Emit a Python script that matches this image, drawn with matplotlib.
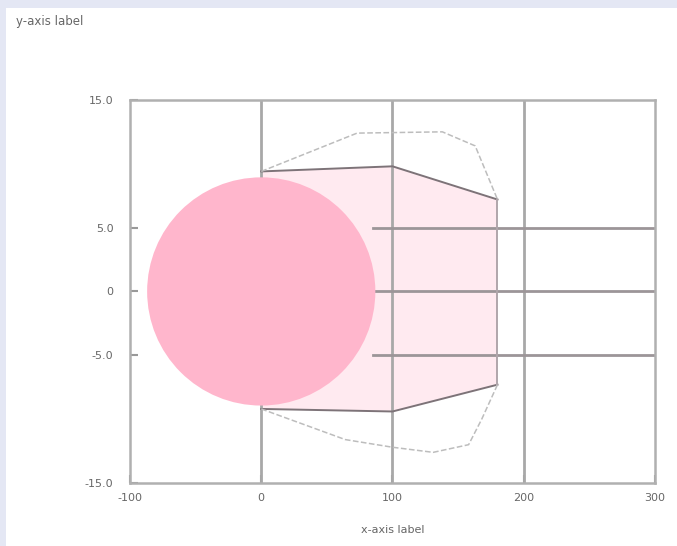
import matplotlib
matplotlib.use("Agg")
import matplotlib.pyplot as plt
from matplotlib.patches import Rectangle

# --- data ---
x_ticks = [-100, 0, 100, 200, 300]
x_tick_labels = ["-100", "0", "100", "200", "300"]
y_ticks = [-15, -5, 0, 5, 15]
y_tick_labels = ["-15.0", "-5.0", "0", "5.0", "15.0"]

circle_x = [0]
circle_y = [0]

band_x = [0, 100, 180]
band_upper = [9.4, 9.8, 7.2]
band_lower = [-9.2, -9.4, -7.3]

outer_upper_x = [0, 73, 138, 163, 180]
outer_upper_y = [9.4, 12.4, 12.5, 11.4, 7.2]
outer_lower_x = [0, 64, 100, 131, 158, 168, 180]
outer_lower_y = [-9.2, -11.6, -12.2, -12.6, -12.0, -10.0, -7.3]

hline_y = [5, 0, -5]
hline_start = 85
vline_x = [0, 100, 200]

x_label = "x-axis label"
y_label = "y-axis label"

# --- figure ---
fig = plt.figure(figsize=(6.77, 5.46), dpi=100, facecolor="#e4e7f4")
fig.patches.append(Rectangle((6 / 677, 0), 1, 1 - 8 / 546, transform=fig.transFigure,
                             facecolor="white", edgecolor="none", zorder=-10))
ax = fig.add_axes([0.192, 0.1154, 0.7755, 0.7016])
ax.set_facecolor("none")

ax.set_xlim(-100, 300)
ax.set_ylim(-15, 15)

# band polygon
poly_x = band_x + band_x[::-1]
poly_y = band_upper + band_lower[::-1]
ax.fill(poly_x, poly_y, facecolor="#ffd6e2", alpha=0.5, edgecolor="none", zorder=1)

for xv in vline_x:
    ax.axvline(xv, color="#a8a8a8", lw=2, zorder=2)
for yv in hline_y:
    ax.plot([hline_start, 300], [yv, yv], color="#9c9598", lw=2, zorder=2)

ax.plot(band_x, band_upper, color="#7d7378", lw=1.4, zorder=3)
ax.plot(band_x, band_lower, color="#7d7378", lw=1.4, zorder=3)
ax.plot([band_x[-1], band_x[-1]], [band_upper[-1], band_lower[-1]], color="#b0a6ab", lw=1.4, zorder=3)

ax.plot(outer_upper_x, outer_upper_y, color="#bdbdbd", lw=1.1, ls="--", zorder=3)
ax.plot(outer_lower_x, outer_lower_y, color="#bdbdbd", lw=1.1, ls="--", zorder=3)

ax.scatter(circle_x, circle_y, s=27000, color="#ffb6cc", edgecolors="none", zorder=4)

ax.set_xticks(x_ticks)
ax.set_xticklabels(x_tick_labels)
ax.set_yticks(y_ticks)
ax.set_yticklabels(y_tick_labels)
ax.tick_params(axis="both", direction="in", length=6, width=1.5, color="#999999",
               labelcolor="#666666", labelsize=8)
ax.tick_params(axis="y", pad=12)
ax.tick_params(axis="x", pad=7)

for s in ax.spines.values():
    s.set_color("#b0b0b0")
    s.set_linewidth(1.8)

ax.set_xlabel(x_label, fontsize=8, color="#666666", labelpad=16)
fig.text(16 / 677, 1 - 21 / 546, y_label, fontsize=8.5, color="#666666", va="center", ha="left")

fig.savefig("out.png", dpi=100, facecolor=fig.get_facecolor())
